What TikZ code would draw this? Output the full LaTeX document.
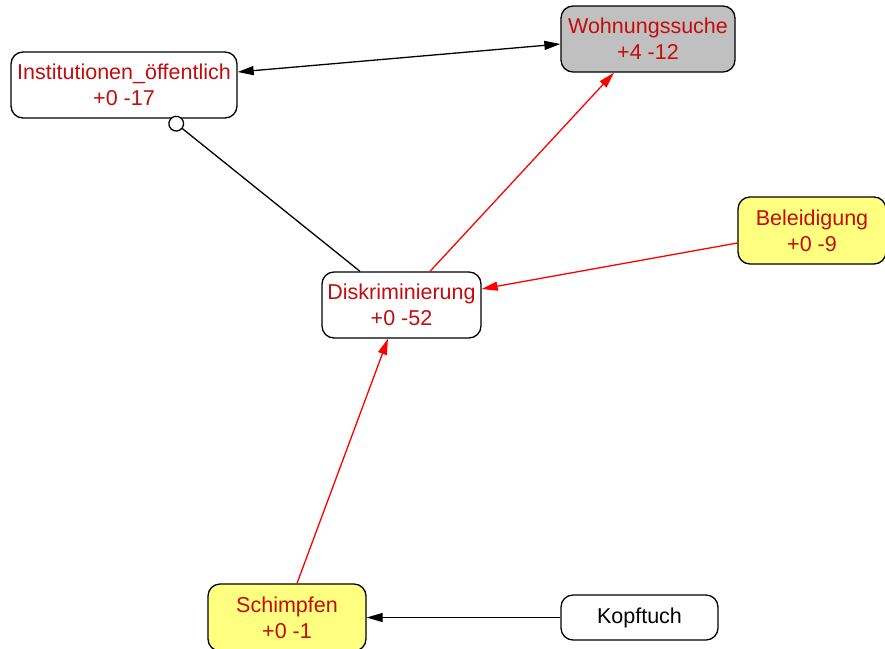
\documentclass[tikz,border=0pt]{standalone}
\usepackage{fontspec}
\setmainfont{Liberation Sans}
\usetikzlibrary{arrows.meta}
\definecolor{labelred}{RGB}{196,12,12}
\definecolor{boxgray}{RGB}{192,192,192}
\definecolor{boxyellow}{RGB}{255,255,128}
\tikzset{
  box/.style={draw=black, line width=1.3pt, rounded corners=12pt, fill=white,
    align=center, text=labelred, inner sep=2pt,
    font=\fontsize{21.5}{26}\selectfont},
  link/.style={line width=1.3pt},
  redlink/.style={line width=1.3pt, draw=red},
  tip/.style={-{Triangle[length=16pt,width=9pt]}},
}
\begin{document}
\begin{tikzpicture}[x=1pt, y=-1pt]
\useasboundingbox (0,0) rectangle (885,648);

% concept boxes
\node[box, minimum width=226pt, minimum height=66pt] (inst) at (124,85) {Institutionen\_öffentlich\\+0 -17};
\node[box, fill=boxgray, minimum width=174pt, minimum height=66pt] (wohn) at (648,39) {Wohnungssuche\\+4 -12};
\node[box, minimum width=159pt, minimum height=66pt] (disk) at (401.5,305) {Diskriminierung\\+0 -52};
\node[box, fill=boxyellow, minimum width=148pt, minimum height=67pt] (bel) at (812,230.5) {Beleidigung\\+0 -9};
\node[box, fill=boxyellow, minimum width=158pt, minimum height=67pt] (schimpf) at (287,617.5) {Schimpfen\\+0 -1};
\node[box, text=black, minimum width=157pt, minimum height=45pt] (kopf) at (639.5,617.5) {Kopftuch};

% relations
\draw[link, {Triangle[length=16pt,width=9pt]}-{Triangle[length=16pt,width=9pt]}]
  ([yshift=13pt]inst.east) -- ([yshift=-5pt]wohn.west);
\draw[link, -{Circle[open, length=16pt, fill=white]}]
  ([xshift=-41.5pt]disk.north) -- ([xshift=46pt]inst.south);
\draw[redlink, tip, red] ([xshift=28.5pt]disk.north) -- ([xshift=-34pt]wohn.south);
\draw[redlink, tip, red] ([yshift=-12.5pt]bel.west) -- ([yshift=16pt]disk.east);
\draw[redlink, tip, red] ([xshift=10pt]schimpf.north) -- ([xshift=-13.5pt]disk.south);
\draw[link, tip] (kopf.west) -- (schimpf.east);
\end{tikzpicture}
\end{document}
